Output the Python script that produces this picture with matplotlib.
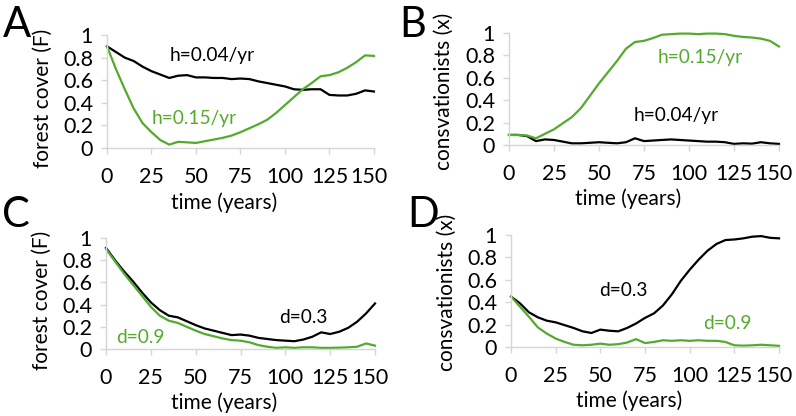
import numpy as np
import matplotlib
matplotlib.use("Agg")
import matplotlib.pyplot as plt
import matplotlib.transforms as mtransforms

plt.rcParams['font.family'] = ['Lato', 'DejaVu Sans']

# time axis (years), sampled every 5 years
years = list(range(0, 151, 5))

# A: forest cover for two harvest rates
forest_h004 = [0.90, 0.85, 0.80, 0.77, 0.72, 0.68, 0.65, 0.62, 0.64, 0.645, 0.625,
               0.625, 0.62, 0.62, 0.61, 0.615, 0.61, 0.59, 0.575, 0.56, 0.545,
               0.52, 0.515, 0.52, 0.52, 0.47, 0.465, 0.465, 0.48, 0.51, 0.50]
forest_h015 = [0.90, 0.70, 0.52, 0.35, 0.22, 0.14, 0.07, 0.03, 0.055, 0.05, 0.045,
               0.06, 0.075, 0.09, 0.11, 0.14, 0.175, 0.21, 0.25, 0.31, 0.38,
               0.45, 0.52, 0.575, 0.635, 0.645, 0.67, 0.71, 0.76, 0.82, 0.815]

# B: conservationists for two harvest rates
cons_h015 = [0.09, 0.09, 0.085, 0.06, 0.10, 0.14, 0.195, 0.25, 0.33, 0.44, 0.55,
             0.65, 0.75, 0.86, 0.92, 0.93, 0.955, 0.985, 0.99, 0.995, 0.995,
             0.99, 0.995, 0.995, 0.99, 0.975, 0.965, 0.96, 0.95, 0.93, 0.88]
cons_h004 = [0.09, 0.09, 0.08, 0.035, 0.05, 0.045, 0.03, 0.015, 0.015, 0.02, 0.025,
             0.02, 0.015, 0.025, 0.06, 0.035, 0.04, 0.045, 0.05, 0.045, 0.04,
             0.035, 0.03, 0.03, 0.025, 0.01, 0.015, 0.012, 0.025, 0.015, 0.01]

# C: forest cover for two values of d
forest_d03 = [0.91, 0.80, 0.70, 0.61, 0.51, 0.42, 0.35, 0.30, 0.285, 0.25, 0.215,
              0.185, 0.165, 0.145, 0.125, 0.13, 0.12, 0.10, 0.09, 0.08, 0.075,
              0.07, 0.085, 0.11, 0.15, 0.135, 0.155, 0.19, 0.245, 0.32, 0.41]
forest_d09 = [0.90, 0.79, 0.68, 0.58, 0.48, 0.38, 0.30, 0.255, 0.235, 0.20, 0.165,
              0.135, 0.115, 0.095, 0.08, 0.075, 0.06, 0.035, 0.02, 0.01, 0.015,
              0.01, 0.015, 0.015, 0.01, 0.01, 0.012, 0.015, 0.02, 0.05, 0.03]

# D: conservationists for two values of d
cons_d03 = [0.45, 0.39, 0.31, 0.265, 0.235, 0.22, 0.195, 0.17, 0.14, 0.125, 0.155,
            0.145, 0.14, 0.17, 0.21, 0.26, 0.30, 0.37, 0.47, 0.59, 0.69,
            0.78, 0.86, 0.92, 0.955, 0.96, 0.97, 0.985, 0.99, 0.975, 0.97]
cons_d09 = [0.45, 0.36, 0.27, 0.175, 0.12, 0.075, 0.045, 0.02, 0.015, 0.02, 0.03,
            0.02, 0.025, 0.04, 0.07, 0.035, 0.045, 0.06, 0.055, 0.06, 0.055,
            0.06, 0.055, 0.055, 0.045, 0.015, 0.012, 0.015, 0.02, 0.015, 0.01]

GREEN = '#52ab2c'
BLACK = '#000000'
SPINE = '#d6d6d6'

fig = plt.figure(figsize=(7.96, 4.16), dpi=100)

panels = [
    # letter, rect, ylabel, ylabel centre, black series, green series, labels
    ('A', [0.1344, 0.6442, 0.3354, 0.2716], 'forest cover (F)', 0.44,
     forest_h004, forest_h015, ('h=0.04/yr', 59, 0.82), ('h=0.15/yr', 49, 0.265)),
    ('B', [0.6394, 0.6514, 0.3392, 0.2692], 'consvationists (x)', 0.48,
     cons_h004, cons_h015, ('h=0.04/yr', 93, 0.26), ('h=0.15/yr', 106, 0.78)),
    ('C', [0.1332, 0.1611, 0.3379, 0.2668], 'forest cover (F)', 0.44,
     forest_d03, forest_d09, ('d=0.3', 110, 0.28), ('d=0.9', 19, 0.10)),
    ('D', [0.6420, 0.1659, 0.3367, 0.2692], 'consvationists (x)', 0.49,
     cons_d03, cons_d09, ('d=0.3', 63, 0.50), ('d=0.9', 121, 0.21)),
]

letter_pos = {'A': (0.003, 0.985), 'B': (0.502, 0.985), 'C': (0.003, 0.528), 'D': (0.512, 0.528)}

for letter, rect, ylab, ymid, blk, grn, blk_lab, grn_lab in panels:
    ax = fig.add_axes(rect)
    ax.plot(years, blk, color=BLACK, lw=1.6, clip_on=False)
    ax.plot(years, grn, color=GREEN, lw=1.6, clip_on=False)
    ax.set_xlim(0, 150)
    ax.set_ylim(0, 1)
    ax.set_xticks([0, 25, 50, 75, 100, 125, 150])
    ax.set_yticks([0, 0.2, 0.4, 0.6, 0.8, 1])
    ax.set_yticklabels(['0', '0.2', '0.4', '0.6', '0.8', '1'])
    for s in ['top', 'right']:
        ax.spines[s].set_visible(False)
    for s in ['left', 'bottom']:
        ax.spines[s].set_color(SPINE)
        ax.spines[s].set_linewidth(1.0)
    ax.tick_params(axis='both', colors=SPINE, labelcolor='black', labelsize=15.5,
                   length=4, width=1.0)
    ax.tick_params(axis='x', pad=10)
    ax.tick_params(axis='y', pad=6)
    # last year label is pulled inward, as in the original
    last = ax.xaxis.get_major_ticks()[-1].label1
    last.set_transform(last.get_transform() +
                       mtransforms.ScaledTranslation(-5 / 100, 0, fig.dpi_scale_trans))
    ax.set_xlabel('time (years)', fontsize=15, va='center')
    ax.xaxis.set_label_coords(0.44, -0.48)
    ax.set_ylabel(ylab, fontsize=15, va='center')
    ax.yaxis.set_label_coords(-0.24, ymid)
    ax.text(blk_lab[1], blk_lab[2], blk_lab[0], color=BLACK, fontsize=13.8,
            ha='center', va='center')
    ax.text(grn_lab[1], grn_lab[2], grn_lab[0], color=GREEN, fontsize=13.8,
            ha='center', va='center')
    lx, ly = letter_pos[letter]
    fig.text(lx, ly, letter, fontsize=30, ha='left', va='top')

fig.savefig('out.png', dpi=100)
